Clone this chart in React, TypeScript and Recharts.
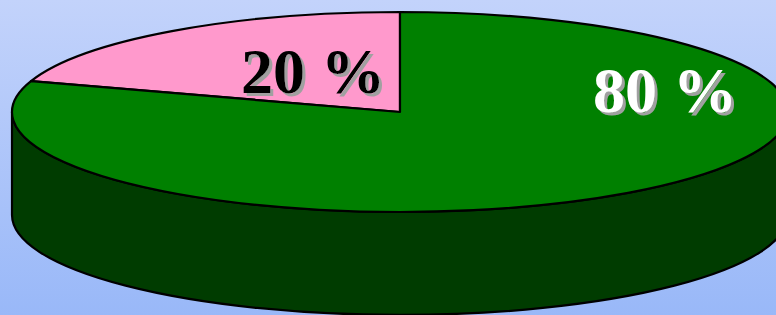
import React from 'react';
import { PieChart, Pie, Cell } from 'recharts';

// ---- data ----
const categories = ['Part A', 'Part B'];
const values = [20, 80];
const sliceColors = ['#ff99cc', '#008000'];
const sideColors = ['#b0587f', '#003c00'];
const labelColors = ['#000000', '#ffffff'];

const data = categories.map((name, i) => ({ name, value: values[i] }));

// ---- layout ----
const W = 776;
const H = 315;
const ASPECT = 3.88; // horizontal radius / vertical radius of the tilted disc
const DEPTH = 103; // thickness of the disc
const LABEL_POS = [
  { fx: -0.224, fy: -0.19 },
  { fx: 0.683, fy: 0.0 },
];

function pt(cx: number, cy: number, rx: number, ry: number, a: number) {
  const r = (a * Math.PI) / 180;
  return [cx + rx * Math.cos(r), cy - ry * Math.sin(r)];
}

function Slice3D(props: any) {
  const { cx, cy, outerRadius, startAngle, endAngle, index } = props;
  const ry = outerRadius;
  const rx = outerRadius * ASPECT;
  const s = Math.min(startAngle, endAngle);
  const e = Math.max(startAngle, endAngle);
  const sides: string[] = [];
  for (let k = -1; k <= 2; k++) {
    const lo = Math.max(s, 180 + 360 * k);
    const hi = Math.min(e, 360 + 360 * k);
    if (hi - lo > 0.01) {
      const [x1, y1] = pt(cx, cy, rx, ry, lo);
      const [x2, y2] = pt(cx, cy, rx, ry, hi);
      sides.push(
        `M${x1},${y1} L${x1},${y1 + DEPTH} A${rx},${ry} 0 0 0 ${x2},${y2 + DEPTH} L${x2},${y2} A${rx},${ry} 0 0 1 ${x1},${y1} Z`
      );
    }
  }
  const [sx, sy] = pt(cx, cy, rx, ry, s);
  const [ex, ey] = pt(cx, cy, rx, ry, e);
  const large = e - s > 180 ? 1 : 0;
  const top = `M${cx},${cy} L${sx},${sy} A${rx},${ry} 0 ${large} 0 ${ex},${ey} Z`;
  return (
    <g>
      {sides.map((d, i) => (
        <path key={i} d={d} fill={sideColors[index]} stroke="#000" strokeWidth={2.2} strokeLinejoin="round" />
      ))}
      <path d={top} fill={sliceColors[index]} stroke="#000" strokeWidth={2.2} strokeLinejoin="round" />
    </g>
  );
}

function renderLabel(props: any) {
  const { cx, cy, outerRadius, index, percent } = props;
  const ry = outerRadius;
  const rx = outerRadius * ASPECT;
  const x = cx + LABEL_POS[index].fx * rx;
  const y = cy + LABEL_POS[index].fy * ry;
  const txt = `${Math.round(percent * 100)} %`;
  return (
    <g key={`lbl-${index}`}>
      <defs>
        <filter id={`shadow-${index}`} x="-10%" y="-20%" width="130%" height="150%">
          <feFlood floodColor="#a0a0a0" result="c" />
          <feComposite in="c" in2="SourceAlpha" operator="in" result="sh" />
          <feOffset in="sh" dx="2.5" dy="2.5" result="off" />
          <feMerge>
            <feMergeNode in="off" />
            <feMergeNode in="SourceGraphic" />
          </feMerge>
        </filter>
      </defs>
      <text
        x={x}
        y={y}
        fill={labelColors[index]}
        textAnchor="middle"
        fontFamily='"Liberation Serif", "Times New Roman", serif'
        fontWeight={700}
        fontSize={64}
        filter={`url(#shadow-${index})`}
      >
        {txt}
      </text>
    </g>
  );
}

export default function App() {
  return (
    <div
      style={{
        position: 'fixed',
        left: 0,
        top: 0,
        width: W,
        height: H,
        background: 'linear-gradient(to bottom, #c3d3fb, #99b8f8)',
      }}
    >
      <PieChart width={W} height={H} margin={{ top: 0, right: 0, bottom: 0, left: 0 }}>
        <Pie
          data={data}
          dataKey="value"
          nameKey="name"
          cx={400}
          cy={112}
          outerRadius={100}
          startAngle={90}
          endAngle={450}
          stroke="none"
          isAnimationActive={false}
          shape={Slice3D}
          label={renderLabel}
          labelLine={false}
        >
          {data.map((d, i) => (
            <Cell key={d.name} fill={sliceColors[i]} />
          ))}
        </Pie>
      </PieChart>
    </div>
  );
}
